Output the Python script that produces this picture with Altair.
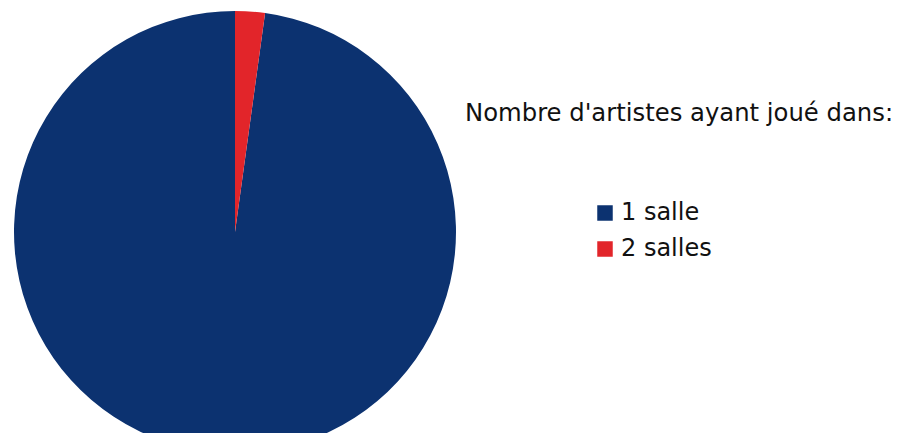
import altair as alt
import pandas as pd

categories = ["1 salle", "2 salles"]
counts = [45, 1]
order = [1, 0]
colors = ["#0c3270", "#e2252a"]
legend_title = ["Nombre d'artistes ayant joué dans:"]

df = pd.DataFrame({"categorie": categories, "nombre": counts, "ordre": order})

pie = alt.Chart(df).mark_arc(radius=221).encode(
    theta=alt.Theta("nombre:Q", stack=True),
    order=alt.Order("ordre:Q"),
    color=alt.Color(
        "categorie:N",
        scale=alt.Scale(domain=categories, range=colors),
        legend=alt.Legend(
            title=None,
            orient="none",
            legendX=585,
            legendY=193,
            symbolType="square",
            symbolSize=240,
            symbolStrokeWidth=0,
            labelFont="DejaVu Sans",
            labelFontSize=24,
            labelColor="#111111",
            labelOffset=4,
            rowPadding=12,
            padding=0,
        ),
    ),
    x=alt.value(227),
    y=alt.value(224),
)

title = alt.Chart(pd.DataFrame({"t": legend_title})).mark_text(
    align="left", baseline="alphabetic", font="DejaVu Sans", fontSize=24.3, color="#111111"
).encode(x=alt.value(457), y=alt.value(113), text="t:N")

chart = alt.layer(pie, title).properties(
    width=894,
    height=425,
    autosize=alt.AutoSizeParams(type="none"),
    padding=0,
).configure_view(stroke=None)

chart.save("out.html", embed_options={"renderer": "svg", "actions": False})
